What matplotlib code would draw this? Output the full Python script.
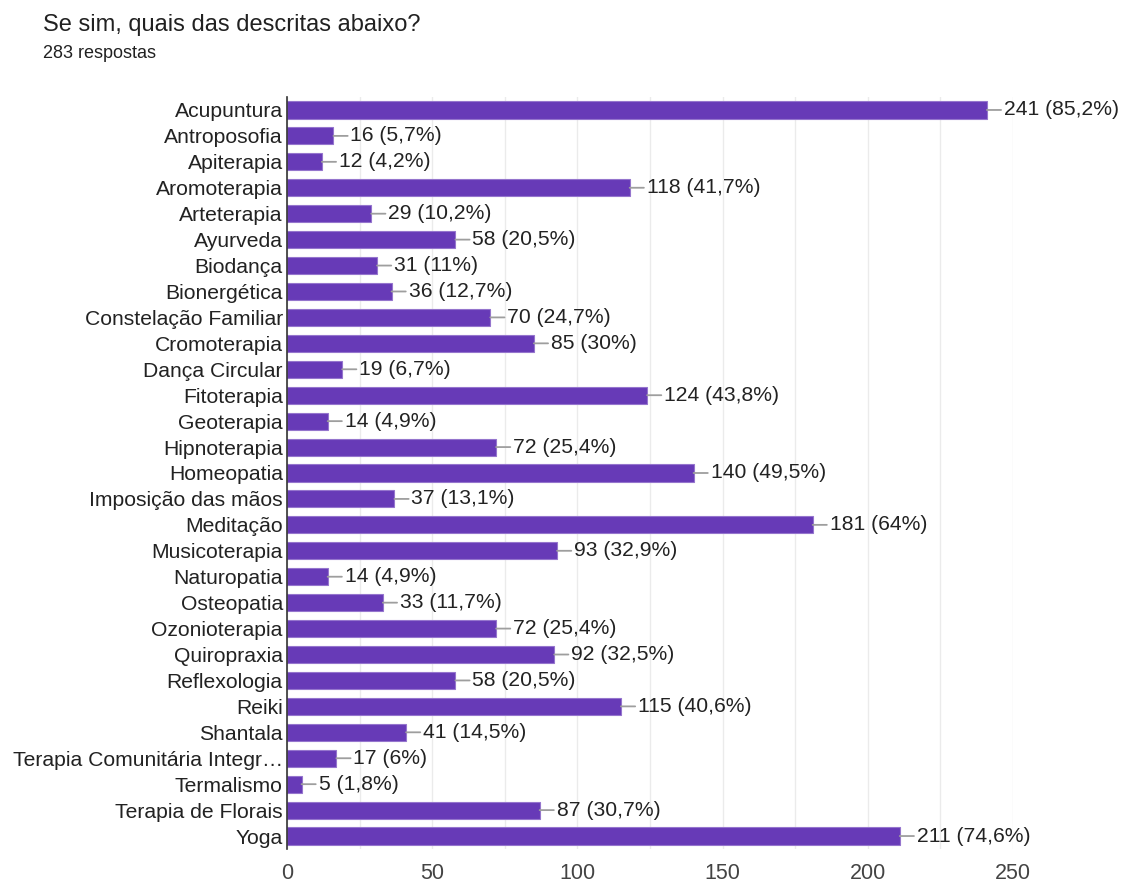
import matplotlib.pyplot as plt
from matplotlib.ticker import MultipleLocator

plt.rcParams['font.family'] = ['Liberation Sans', 'DejaVu Sans']

categorias = ['Acupuntura', 'Antroposofia', 'Apiterapia', 'Aromoterapia', 'Arteterapia',
              'Ayurveda', 'Biodança', 'Bionergética', 'Constelação Familiar', 'Cromoterapia',
              'Dança Circular', 'Fitoterapia', 'Geoterapia', 'Hipnoterapia', 'Homeopatia',
              'Imposição das mãos', 'Meditação', 'Musicoterapia', 'Naturopatia', 'Osteopatia',
              'Ozonioterapia', 'Quiropraxia', 'Reflexologia', 'Reiki', 'Shantala',
              'Terapia Comunitária Integr…', 'Termalismo', 'Terapia de Florais', 'Yoga']
valores = [241, 16, 12, 118, 29, 58, 31, 36, 70, 85, 19, 124, 14, 72, 140, 37, 181, 93,
           14, 33, 72, 92, 58, 115, 41, 17, 5, 87, 211]
percentuais = ['85,2%', '5,7%', '4,2%', '41,7%', '10,2%', '20,5%', '11%', '12,7%', '24,7%',
               '30%', '6,7%', '43,8%', '4,9%', '25,4%', '49,5%', '13,1%', '64%', '32,9%',
               '4,9%', '11,7%', '25,4%', '32,5%', '20,5%', '40,6%', '14,5%', '6%', '1,8%',
               '30,7%', '74,6%']

fig = plt.figure(figsize=(11.28, 8.83), dpi=100)
ax = fig.add_axes([287 / 1128, 34 / 883, 726 / 1128, 752 / 883])

y = list(range(len(categorias)))
ax.barh(y, valores, height=0.66, color='#673ab7', edgecolor='#9575cd', linewidth=0.8, zorder=3)

for i, (v, p) in enumerate(zip(valores, percentuais)):
    ax.annotate(f'{v} ({p})', xy=(v, i), xytext=(17, 0), textcoords='offset pixels',
                va='center', ha='left', fontsize=15.2, color='#222222',
                arrowprops=dict(arrowstyle='-', color='#9e9e9e', lw=1.3,
                                shrinkA=0, shrinkB=0, relpos=(0, 0.5)))

ax.set_ylim(len(categorias) - 0.5, -0.5)
ax.set_xlim(0, 250)
ax.set_yticks(y)
ax.set_yticklabels(categorias, fontsize=15.2, color='#222222')
ax.xaxis.set_major_locator(MultipleLocator(50))
ax.xaxis.set_minor_locator(MultipleLocator(25))
ax.tick_params(axis='x', labelsize=15.5, colors='#444444', length=0, which='both', pad=10)
ax.tick_params(axis='y', length=0, pad=3)
ax.grid(axis='x', which='both', color='#ebebeb', lw=1, zorder=0)
for s in ['top', 'right', 'bottom']:
    ax.spines[s].set_visible(False)
ax.spines['left'].set_color('#333333')
ax.spines['left'].set_linewidth(1.2)
ax.spines['left'].set_zorder(4)

fig.text(43 / 1128, 1 - 25 / 883, 'Se sim, quais das descritas abaixo?', fontsize=17,
         color='#212121', va='center')
fig.text(43 / 1128, 1 - 54 / 883, '283 respostas', fontsize=13, color='#212121', va='center')

fig.savefig('out.png', dpi=100)
